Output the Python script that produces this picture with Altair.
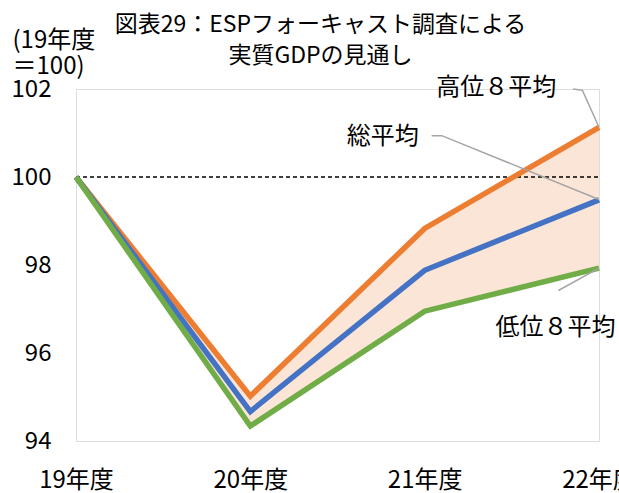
import json
import altair as alt
import pandas as pd

FONT = "Noto Sans CJK JP"

categories = ["19年度", "20年度", "21年度", "22年度"]
x_idx = [0, 1, 2, 3]
high8 = [100.0, 95.02, 98.83, 101.13]
total = [100.0, 94.67, 97.88, 99.48]
low8 = [100.0, 94.34, 96.95, 97.93]

series_names = ["高位８平均", "総平均", "低位８平均"]
series_colors = ["#ED7D31", "#4472C4", "#70AD47"]

# annotation labels (data coordinates)
label_text = ["高位８平均", "総平均", "低位８平均"]
label_x = [2.41, 1.76, 2.75]
label_y = [102.02, 100.9, 96.57]

# leader lines (data coordinates)
leader_id = ["h", "h", "h", "t", "t", "t", "l", "l"]
leader_ord = [0, 1, 2, 0, 1, 2, 0, 1]
leader_x = [2.852, 2.905, 3.0, 2.04, 2.098, 3.0, 2.767, 3.0]
leader_y = [102.0, 101.97, 101.13, 100.94, 100.94, 99.49, 97.42, 97.93]

ref_x = [0, 3]
ref_y = [100, 100]

band_df = pd.DataFrame({"x": x_idx, "hi": high8, "lo": low8})
rows = []
for name, vals in zip(series_names, [high8, total, low8]):
    for xi, v in zip(x_idx, vals):
        rows.append({"x": xi, "v": v, "s": name})
line_df = pd.DataFrame(rows)
lab_df = pd.DataFrame({"t": label_text, "x": label_x, "y": label_y})
lead_df = pd.DataFrame({"g": leader_id, "o": leader_ord, "x": leader_x, "y": leader_y})
ref_df = pd.DataFrame({"x": ref_x, "y": ref_y})

label_expr = json.dumps(categories, ensure_ascii=False) + "[datum.value]"

xscale = alt.Scale(domain=[0, 3], nice=False, zero=False)
yscale = alt.Scale(domain=[94, 102], nice=False, zero=False)

x_axis = alt.Axis(values=x_idx, labelExpr=label_expr, grid=False, ticks=False, tickSize=0,
                  domain=False, labelPadding=27, labelFontSize=24, labelFont=FONT,
                  labelColor="#000000", labelFlush=False, labelOverlap=False, title=None)
y_axis = alt.Axis(values=[94, 96, 98, 100, 102], grid=False, ticks=False, tickSize=0,
                  domain=False, labelPadding=25, labelFontSize=24, labelFont=FONT,
                  labelColor="#000000",
                  title=["(19年度", "＝100)"], titleAngle=0, titleAlign="left",
                  titleBaseline="middle", titleX=-64, titleY=-49, titleFontSize=24,
                  titleFont=FONT, titleFontWeight="normal", titleColor="#000000",
                  titleLineHeight=26)

band = alt.Chart(band_df).mark_area(color="#FBE5D6", opacity=1).encode(
    x=alt.X("x:Q", scale=xscale, axis=x_axis),
    y=alt.Y("hi:Q", scale=yscale, axis=y_axis),
    y2="lo:Q",
)

ref = alt.Chart(ref_df).mark_line(color="#000000", strokeWidth=1.5, strokeDash=[4, 3]).encode(
    x=alt.X("x:Q", scale=xscale),
    y=alt.Y("y:Q", scale=yscale),
)

lines = alt.Chart(line_df).mark_line(strokeWidth=5.5, strokeJoin="miter").encode(
    x=alt.X("x:Q", scale=xscale),
    y=alt.Y("v:Q", scale=yscale),
    color=alt.Color("s:N", scale=alt.Scale(domain=series_names, range=series_colors), legend=None),
    order=alt.Order("x:Q"),
)

leaders = alt.Chart(lead_df).mark_line(color="#A5A5A5", strokeWidth=1.5, clip=False).encode(
    x=alt.X("x:Q", scale=xscale),
    y=alt.Y("y:Q", scale=yscale),
    detail="g:N",
    order=alt.Order("o:Q"),
)

labels = alt.Chart(lab_df).mark_text(fontSize=24, font=FONT, color="#000000",
                                     align="center", baseline="middle", clip=False).encode(
    x=alt.X("x:Q", scale=xscale),
    y=alt.Y("y:Q", scale=yscale),
    text="t:N",
)

chart = alt.layer(band, ref, lines, leaders, labels).properties(
    width=523,
    height=352,
    autosize=alt.AutoSizeParams(type="none"),
    padding={"left": 76, "top": 89, "right": 20, "bottom": 52},
    title=alt.TitleParams(
        text=["図表29：ESPフォーキャスト調査による", "実質GDPの見通し"],
        fontSize=23, font=FONT, fontWeight="normal", color="#000000",
        anchor="middle", frame="group", dx=-17, dy=50, lineHeight=31, offset=10,
    ),
).configure_view(stroke="#F7F7F7", strokeWidth=1).configure(background="#FFFFFF")

chart.save("out.html", embed_options={"renderer": "svg", "actions": False})
